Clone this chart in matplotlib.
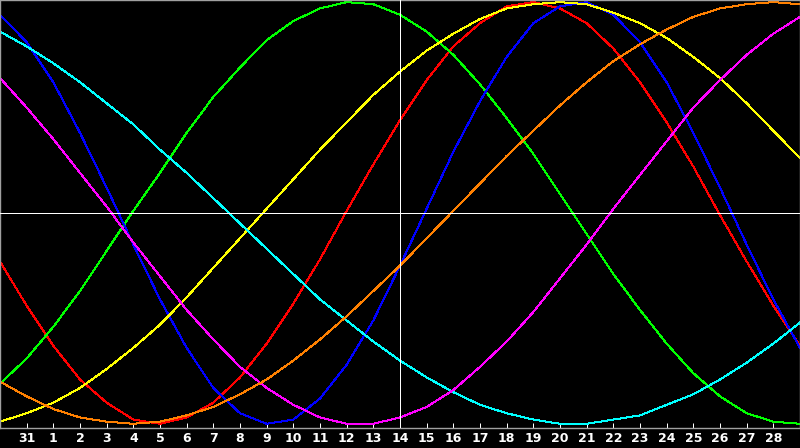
import numpy as np
from matplotlib import pyplot as plt

# day of month for each sample (one sample per day)
days = [30, 31, 1, 2, 3, 4, 5, 6, 7, 8, 9, 10, 11, 12, 13, 14,
        15, 16, 17, 18, 19, 20, 21, 22, 23, 24, 25, 26, 27, 28, 29]
today = 14

# cycle values in percent
red = [-23, -44, -63, -79, -90, -98, -100, -97, -90, -78, -62, -43, -22, 1, 23, 44,
       63, 79, 90, 98, 100, 97, 90, 78, 62, 43, 22, -1, -23, -44, -63]
green = [-81, -69, -54, -37, -18, 1, 19, 38, 55, 69, 82, 91, 97, 100, 99, 94,
         86, 75, 61, 45, 28, 9, -10, -29, -46, -62, -76, -87, -95, -99, -100]
blue = [94, 81, 62, 38, 12, -15, -41, -64, -83, -95, -100, -98, -88, -72, -51, -25,
        2, 29, 53, 74, 90, 98, 100, 94, 81, 62, 38, 12, -15, -41, -64]
yellow = [-99, -95, -90, -83, -74, -64, -53, -40, -26, -12, 2, 16, 30, 43, 56, 67,
          77, 85, 92, 97, 99, 100, 99, 95, 90, 83, 74, 64, 52, 39, 26]
cyan = [86, 79, 71, 62, 52, 42, 30, 19, 7, -5, -17, -29, -41, -51, -61, -70,
        -78, -85, -91, -95, -98, -100, -100, -98, -96, -91, -86, -79, -71, -62, -52]
magenta = [64, 50, 35, 19, 3, -14, -30, -46, -60, -73, -83, -91, -97, -100, -100, -97,
           -92, -84, -73, -61, -47, -31, -15, 2, 18, 34, 50, 63, 75, 85, 93]
orange = [-80, -87, -93, -97, -99, -100, -99, -96, -92, -86, -79, -70, -60, -49, -37, -25,
          -12, 1, 14, 27, 39, 51, 62, 72, 80, 87, 93, 97, 99, 100, 99]

series = [
    (red, '#ff0000'),
    (green, '#00ff00'),
    (blue, '#0000ff'),
    (yellow, '#ffff00'),
    (cyan, '#00ffff'),
    (magenta, '#ff00ff'),
    (orange, '#ff8000'),
]

fig = plt.figure(figsize=(8, 4.48), dpi=100, facecolor='black')
ax = fig.add_axes([0, 20 / 448, 1, 428 / 448], facecolor='black')

x = np.arange(len(days))
for vals, col in series:
    ax.plot(x, vals, color=col, lw=0.72, antialiased=False)

mid = days.index(today)
ax.axvline(mid, color='white', lw=0.72, antialiased=False, zorder=5)
ax.axhline(0, color='white', lw=0.72, antialiased=False, zorder=5)

ax.set_xlim(0, len(days) - 1)
ax.set_ylim(-102, 101)

ax.set_xticks(x[1:-1])
ax.set_xticklabels([str(d) for d in days[1:-1]], color='white',
                   fontsize=9, fontweight='bold')
ax.tick_params(axis='x', direction='in', length=3.5, width=0.72, color='white', pad=3)
ax.set_yticks([])

for s in ax.spines.values():
    s.set_color('#a0a0a0')
    s.set_linewidth(1.0)

fig.savefig('out.png', dpi=100, facecolor='black')
